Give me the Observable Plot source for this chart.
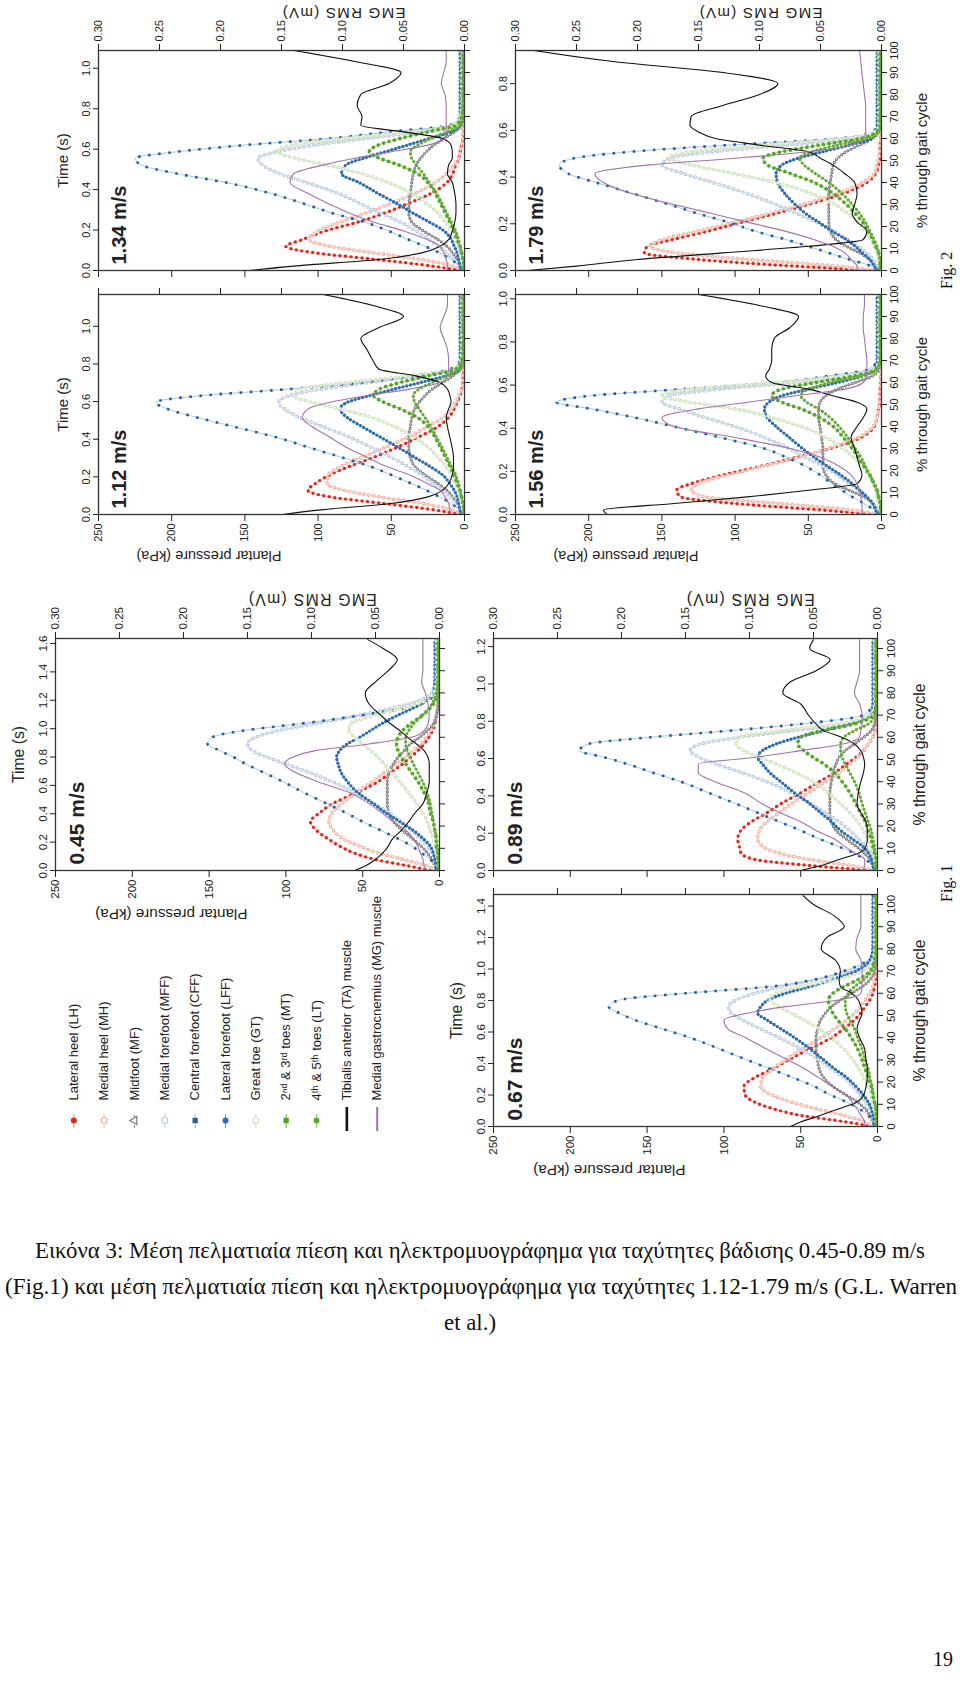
<!DOCTYPE html>
<html><head><meta charset="utf-8">
<script src="https://cdn.jsdelivr.net/npm/d3@7"></script>
<script src="https://cdn.jsdelivr.net/npm/@observablehq/plot@0.6"></script>
<style>
body{margin:0;background:#fff;}
#page{position:relative;width:960px;height:1682px;overflow:hidden;background:#fff;}
.rot{position:absolute;transform-origin:0 0;}
.cap{position:absolute;left:480px;font-family:"Liberation Serif","Times New Roman",serif;font-size:24px;white-space:nowrap;color:#111;line-height:1;transform-origin:50% 50%;}
.figl{position:absolute;font-family:"Liberation Serif","Times New Roman",serif;font-size:16px;white-space:nowrap;color:#111;transform-origin:0 0;}
</style></head><body><div id="page"></div>
<script>
// ---------- grids (% of gait cycle) ----------
const G2 = [0,2,5,8,11,14,18,22,26,30,35,40,44,48,51,54,57,60,63,66,70,75,80,85,90,95,100];
const G1 = [0,2,5,8,11,14,18,22,26,30,35,40,44,48,51,54,57,60,63,66,70,75,80,85,90,95,100,104];

// ---------- tick labels ----------
const pressTicks = [0,50,100,150,200,250];
const emgTicks = [0,0.05,0.10,0.15,0.20,0.25,0.30];
const gaitTicks = [0,10,20,30,40,50,60,70,80,90,100];
const time045 = [0,0.2,0.4,0.6,0.8,1.0,1.2,1.4,1.6];
const time067 = [0,0.2,0.4,0.6,0.8,1.0,1.2,1.4];
const time089 = [0,0.2,0.4,0.6,0.8,1.0,1.2];
const time112 = [0,0.2,0.4,0.6,0.8,1.0];
const time134 = [0,0.2,0.4,0.6,0.8,1.0];
const time156 = [0,0.2,0.4,0.6,0.8,1.0];
const time179 = [0,0.2,0.4,0.6,0.8];

// ---------- legend ----------
const legendNames = ["Lateral heel (LH)","Medial heel (MH)","Midfoot (MF)","Medial forefoot (MFF)","Central forefoot (CFF)","Lateral forefoot (LFF)","Great toe (GT)","2ⁿᵈ & 3ʳᵈ toes (MT)","4ᵗʰ & 5ᵗʰ toes (LT)","Tibialis anterior (TA) muscle","Medial gastrocnemius (MG) muscle"];

// ---------- 0.45 m/s (kPa; EMG in mV) ----------
const LH045 = [6,20,42,56,65,72,80,84,78,70,54,40,32,24,19,14,10,7,4.5,3,2,1,1,1,1,1,1,1];
const MH045 = [3,8,24,40,52,62,69,72,70,64,54,44,36,28,22,17,12,8.5,5.5,3.5,2,1,1,1,1,1,1,1];
const MF045 = [2,3,5,8,12,17,24,30,33,34,34,34,33,30,27,23,19,13,8,4,2,1,1,1,1,1,1,1];
const MFF045 = [2,2,3,5,8,12,18,25,33,42,55,70,84,100,112,122,125,120,105,82,52,20,5,3,2,2,2,2];
const CFF045 = [2,3,6,12,18,26,38,50,61,73,88,102,114,126,134,143,151,148,128,92,50,12,3,2,2,2,2,2];
const LFF045 = [2,2,3,4,6,10,17,26,35,43,53,60,64,66,67,65,60,52,45,38,27,12,4,3,3,3,3,3];
const GT045 = [1,1,1,2,3,4,6,8,11,15,20,26,31,36,40,45,50,55,59,58,42,14,4,2,2,2,2,2];
const MT045 = [0.5,0.5,1,1,2,2,3,4,6,7,10,14,18,22,25,27,28,27,24,19,11,4,1.5,1,1,1,1,1];
const LT045 = [0.5,0.5,1,1,1.5,2,3,4,5,6,8,11,14,17,19,21,22,22,20,17,11,5,2,1,1,1,1,1];
const TA045 = [0.066,0.058,0.05,0.044,0.040,0.037,0.03,0.024,0.019,0.013,0.01,0.008,0.008,0.008,0.009,0.012,0.018,0.025,0.031,0.038,0.046,0.055,0.058,0.05,0.04,0.033,0.044,0.056];
const MG045 = [0.012,0.012,0.013,0.015,0.017,0.02,0.026,0.036,0.045,0.055,0.07,0.095,0.112,0.121,0.115,0.097,0.055,0.022,0.012,0.009,0.008,0.009,0.011,0.014,0.013,0.013,0.013,0.013];

// ---------- 0.67 m/s ----------
const LH067 = [3,20,50,68,80,86,87,80,68,58,44,30,22,15,11,8,5,3,2,1,1,1,1,1,1,1,1,1];
const MH067 = [3,8,22,40,56,68,76,75,68,60,49,37,28,20,15,11,8,5,3,2,1,1,1,1,1,1,1,1];
const MF067 = [2,3,5,8,13,20,29,35,38,39,40,40,39,37,34,30,24,17,10,5,2,1,1,1,1,1,1,1];
const MFF067 = [2,2,3,5,8,11,16,22,30,38,50,64,76,88,95,97,92,80,62,41,18,4,3,2,2,2,2,2];
const CFF067 = [2,3,6,12,20,30,41,55,70,85,103,122,140,158,168,175,168,125,70,42,22,6,2,2,2,2,2,2];
const LFF067 = [2,2,3,4,6,9,14,20,28,35,44,54,63,72,78,76,71,60,44,30,14,5,3,3,3,3,3,3];
const GT067 = [1,1,1,2,3,4,6,9,12,16,22,30,38,48,56,64,70,66,50,28,10,3,2,2,2,2,2,2];
const MT067 = [0.5,0.5,1,1,2,3,4,6,8,10,13,17,21,26,29,31,32,29,22,13,5,2,1,1,1,1,1,1];
const LT067 = [0.5,0.5,1,1,2,2.5,3.5,5,6,8,10,13,15,18,20,21,21,19,15,9,4,1.5,1,1,1,1,1,1];
const TA067 = [0.068,0.06,0.045,0.03,0.016,0.011,0.009,0.008,0.008,0.009,0.01,0.014,0.016,0.014,0.012,0.013,0.015,0.02,0.029,0.03,0.029,0.033,0.044,0.04,0.026,0.034,0.05,0.058];
const MG067 = [0.01,0.01,0.013,0.016,0.02,0.024,0.035,0.046,0.057,0.07,0.087,0.103,0.117,0.12,0.102,0.072,0.03,0.013,0.012,0.012,0.012,0.013,0.017,0.016,0.013,0.013,0.013,0.013];

// ---------- 0.89 m/s ----------
const LH089 = [5,40,80,89,90,91,89,82,72,63,50,38,28,20,14,9,6,3,1.5,1,1,1,1,1,1,1,1,1];
const MH089 = [3,15,45,65,75,78,77,72,64,56,45,34,25,18,13,9,6,3,1.5,1,1,1,1,1,1,1,1,1];
const MF089 = [2,3,5,9,14,20,27,30,31,31,31,30,29,27,25,21,15,9,4,2,1,1,1,1,1,1,1,1];
const MFF089 = [2,2,3,5,8,12,18,25,34,43,56,72,88,105,116,122,115,90,55,22,5,3,2,2,2,2,2,2];
const CFF089 = [2,3,8,16,26,37,50,64,78,92,110,128,146,163,178,194,188,148,96,50,9,3,2,2,2,2,2,2];
const LFF089 = [2,3,4,6,10,16,24,30,37,44,54,63,70,75,78,75,66,52,35,18,5,3,3,3,3,3,3,3];
const GT089 = [1,1,2,3,4,6,9,13,18,24,32,42,53,66,77,87,92,90,62,25,5,2,2,2,2,2,2,2];
const MT089 = [0.5,1,1,2,3,4,6,8,11,14,18,23,28,35,42,48,52,50,36,15,3,1,1,1,1,1,1,1];
const LT089 = [0.5,1,1,1.5,2,3,4,6,8,10,12,15,18,21,23,24,24,22,15,6,2,1,1,1,1,1,1,1];
const TA089 = [0.06,0.045,0.03,0.014,0.009,0.008,0.008,0.009,0.013,0.016,0.015,0.013,0.011,0.01,0.011,0.013,0.018,0.028,0.042,0.048,0.054,0.06,0.074,0.068,0.048,0.037,0.053,0.05];
const MG089 = [0.012,0.01,0.01,0.018,0.026,0.033,0.048,0.06,0.076,0.09,0.104,0.127,0.14,0.14,0.095,0.06,0.027,0.014,0.013,0.012,0.012,0.014,0.018,0.016,0.014,0.014,0.014,0.014];

// ---------- 1.12 m/s ----------
const LH112 = [3,20,55,92,107,102,92,78,62,48,32,18,11,7,5,3,2,1,1,0.5,0.5,0.5,0.5,0.5,0.5,0.5,0.5];
const MH112 = [2,8,28,58,82,94,93,84,70,56,39,25,15,9,6,4,2,1,1,0.5,0.5,0.5,0.5,0.5,0.5,0.5,0.5];
const MF112 = [2,3,5,8,12,18,27,34,37,38,38,37,36,34,31,27,22,15,8,3,1,1,1,1,1,1,1];
const MFF112 = [2,3,6,10,15,21,29,39,50,62,78,97,112,123,127,120,98,65,32,6,2,2,2,2,2,2,2];
const CFF112 = [2,4,9,17,26,36,50,65,84,104,128,158,182,203,211,180,120,70,35,10,3,2,2,2,2,2,2];
const LFF112 = [2,3,4,5,7,10,15,24,34,44,57,70,80,85,80,65,48,30,13,3,3,3,3,3,3,3,3];
const GT112 = [1,1,2,3,4,6,9,13,18,24,34,48,63,85,104,117,112,80,38,8,3,2,2,2,2,2,2];
const MT112 = [0.5,0.5,1,2,3,5,7,10,13,16,20,25,32,44,55,62,58,44,25,6,2,1,1,1,1,1,1];
const LT112 = [0.5,0.5,1,2,3,4,6,9,12,15,19,23,27,31,34,35,31,22,12,3,1,1,1,1,1,1,1];
const TA112 = [0.149,0.12,0.06,0.03,0.018,0.013,0.01,0.009,0.009,0.01,0.012,0.014,0.015,0.013,0.011,0.012,0.014,0.02,0.04,0.07,0.075,0.08,0.085,0.07,0.05,0.075,0.116];
const MG112 = [0.012,0.012,0.013,0.016,0.02,0.03,0.045,0.065,0.08,0.095,0.11,0.125,0.133,0.128,0.11,0.08,0.045,0.02,0.014,0.013,0.013,0.014,0.017,0.02,0.017,0.014,0.014];

// ---------- 1.34 m/s ----------
const LH134 = [3,22,60,102,122,111,95,73,55,40,23,12,8,6,4,3,2,1,1,0.5,0.5,0.5,0.5,0.5,0.5,0.5,0.5];
const MH134 = [2,8,30,62,92,106,100,85,68,52,34,20,12,7,4,3,2,1,1,0.5,0.5,0.5,0.5,0.5,0.5,0.5,0.5];
const MF134 = [2,3,5,8,12,18,28,36,38,38,37,36,35,33,30,26,21,14,7,2,1,1,1,1,1,1,1];
const MFF134 = [2,3,7,12,18,24,33,44,57,70,86,108,126,138,141,128,102,67,32,4,2,2,2,2,2,2,2];
const CFF134 = [2,4,9,17,27,38,52,68,90,108,132,163,196,221,225,196,150,92,52,10,3,2,2,2,2,2,2];
const LFF134 = [2,3,4,5,7,9,14,24,35,45,59,72,84,81,69,54,39,24,9,3,3,3,3,3,3,3,3];
const GT134 = [1,1,2,3,4,6,9,13,18,25,36,52,70,95,115,128,118,80,35,8,3,2,2,2,2,2,2];
const MT134 = [0.5,0.5,1,2,3,5,7,10,13,16,20,25,32,45,58,65,59,44,25,6,2,1,1,1,1,1,1];
const LT134 = [0.5,0.5,1,2,3,4,6,9,12,15,19,24,28,33,36,37,32,23,12,3,1,1,1,1,1,1,1];
const TA134 = [0.177,0.14,0.07,0.035,0.02,0.013,0.01,0.008,0.007,0.007,0.008,0.01,0.014,0.013,0.01,0.01,0.011,0.018,0.05,0.085,0.084,0.088,0.085,0.062,0.052,0.09,0.14];
const MG134 = [0.014,0.014,0.015,0.017,0.02,0.03,0.05,0.075,0.094,0.11,0.128,0.143,0.14,0.115,0.09,0.06,0.03,0.016,0.015,0.015,0.015,0.015,0.016,0.019,0.017,0.015,0.015];

// ---------- 1.56 m/s ----------
const LH156 = [5,40,100,137,140,130,108,82,58,35,14,5,3,2,1,1,1,0.5,0.5,0.5,0.5,0.5,0.5,0.5,0.5,0.5,0.5];
const MH156 = [3,20,70,120,130,125,105,80,57,36,16,6,3,2,1,1,1,0.5,0.5,0.5,0.5,0.5,0.5,0.5,0.5,0.5,0.5];
const MF156 = [2,3,6,12,22,32,38,40,40,40,41,42,43,43,42,38,30,18,6,2,1,1,1,1,1,1,1];
const MFF156 = [2,3,6,10,15,22,30,40,52,63,80,100,120,138,150,145,110,60,22,5,2,2,2,2,2,2,2];
const CFF156 = [2,5,12,20,27,34,42,52,65,80,110,142,168,198,222,198,136,72,36,9,3,2,2,2,2,2,2];
const LFF156 = [3,4,6,10,15,20,28,37,46,54,63,72,78,80,77,68,50,30,13,4,3,3,3,3,3,3,3];
const GT156 = [1,1,2,3,4,6,9,13,19,26,38,55,75,100,130,150,130,70,25,5,2,2,2,2,2,2,2];
const MT156 = [0.5,0.5,1,2,3,5,8,12,16,20,26,33,42,55,68,75,68,45,18,4,1,1,1,1,1,1,1];
const LT156 = [0.5,0.5,1,2,3,5,8,11,14,18,23,29,35,43,51,55,50,35,14,3,1,1,1,1,1,1,1];
const TA156 = [0.225,0.228,0.17,0.11,0.06,0.02,0.016,0.018,0.02,0.022,0.025,0.02,0.015,0.012,0.02,0.04,0.06,0.09,0.095,0.092,0.09,0.09,0.088,0.075,0.068,0.1,0.15];
const MG156 = [0.016,0.016,0.016,0.017,0.018,0.02,0.025,0.035,0.05,0.075,0.12,0.17,0.18,0.15,0.11,0.07,0.03,0.015,0.012,0.012,0.012,0.013,0.014,0.015,0.015,0.014,0.014];

// ---------- 1.79 m/s ----------
const LH179 = [5,60,125,162,160,143,118,95,72,50,26,10,4,2,1,1,1,0.5,0.5,0.5,0.5,0.5,0.5,0.5,0.5,0.5,0.5];
const MH179 = [3,30,90,140,158,150,125,100,76,54,30,13,5,3,2,1,1,0.5,0.5,0.5,0.5,0.5,0.5,0.5,0.5,0.5,0.5];
const MF179 = [2,4,8,15,24,31,35,36,36,36,36,35,34,33,30,24,15,6,2,1,1,1,1,1,1,1,1];
const MFF179 = [2,3,6,10,16,23,33,45,58,72,92,115,135,150,145,115,65,20,4,2,2,2,2,2,2,2,2];
const CFF179 = [2,7,22,36,50,65,87,105,126,145,170,195,214,220,210,171,105,30,6,3,2,2,2,2,2,2,2];
const LFF179 = [3,5,8,13,18,24,34,43,52,59,66,71,72,68,57,40,22,7,4,3,3,3,3,3,3,3,3];
const GT179 = [1,1,2,3,5,7,11,16,23,32,48,72,100,130,145,130,80,25,5,2,2,2,2,2,2,2,2];
const MT179 = [0.5,1,1,2,4,6,9,13,18,24,33,46,62,78,81,68,42,14,3,1,1,1,1,1,1,1,1];
const LT179 = [0.5,1,1,2,3,5,8,11,15,20,27,36,45,53,56,48,30,10,2,1,1,1,1,1,1,1,1];
const TA179 = [0.29,0.25,0.2,0.13,0.06,0.015,0.012,0.02,0.024,0.022,0.02,0.022,0.03,0.04,0.05,0.06,0.1,0.136,0.15,0.157,0.156,0.13,0.1,0.085,0.13,0.22,0.285];
const MG179 = [0.02,0.02,0.025,0.03,0.04,0.055,0.08,0.11,0.14,0.17,0.205,0.228,0.235,0.19,0.12,0.06,0.025,0.015,0.013,0.013,0.013,0.013,0.014,0.015,0.016,0.017,0.018];

// ---------- styles ----------
const FONT_N = '"Liberation Sans Narrow","Arial Narrow","Liberation Sans",Arial,sans-serif';
const FONT_R = '"Liberation Sans",Arial,sans-serif';
const K = 250 / 0.3; // EMG (mV) -> pressure axis units
const SERIES = [
  {line:"#f0a595", dot:"#e0251c", w:3.4, dash:"0 5.5", cap:"round"},
  {line:"#f6c6ba", dot:"#f1b0a1", w:3.8, dash:"0 5", cap:"round", hollow:true},
  {line:"#9a9a9a", dot:"#7a7a7a", w:3.2, dash:"0 3.6", cap:"round", hollow:true},
  {line:"#cbd6e6", dot:"#b9c8de", w:3.8, dash:"0 5", cap:"round", hollow:true},
  {line:"#a3c8e6", dot:"#285d9b", w:2.6, dash:"2.6 7.5", cap:"butt"},
  {line:"#74a9d7", dot:"#2d6caf", w:3.4, dash:"0 3.8", cap:"round"},
  {line:"#dbe9cb", dot:"#cde0b8", w:3.8, dash:"0 5", cap:"round", hollow:true},
  {line:"#7cc24a", dot:"#55a12a", w:3.4, dash:"3 2.6", cap:"butt"},
  {line:"#8cc95e", dot:"#63a936", w:3.2, dash:"0 4.2", cap:"round"}
];

const page = document.getElementById("page");

function place(el, L, T, w) {
  const d = document.createElement("div");
  d.className = "rot";
  d.style.left = L + "px";
  d.style.top = T + "px";
  d.style.transform = `translate(0px, ${w}px) rotate(-90deg)`;
  d.append(el);
  page.append(d);
}

const panels = [
  {label:"1.34 m/s", fx:98, fy:51, fig:2, T:1.088, tt:time134, show:{tl:1,tt:1,el:1,pl:0,gl:0}, p:[LH134,MH134,MF134,MFF134,CFF134,LFF134,GT134,MT134,LT134], e:[TA134,MG134]},
  {label:"1.12 m/s", fx:98, fy:295, fig:2, T:1.169, tt:time112, show:{tl:1,tt:1,el:0,pl:1,gl:0}, p:[LH112,MH112,MF112,MFF112,CFF112,LFF112,GT112,MT112,LT112], e:[TA112,MG112]},
  {label:"1.79 m/s", fx:515, fy:51, fig:2, T:0.942, tt:time179, show:{tl:1,tt:0,el:1,pl:0,gl:1}, p:[LH179,MH179,MF179,MFF179,CFF179,LFF179,GT179,MT179,LT179], e:[TA179,MG179]},
  {label:"1.56 m/s", fx:515, fy:295, fig:2, T:1.02, tt:time156, show:{tl:1,tt:0,el:0,pl:1,gl:1}, p:[LH156,MH156,MF156,MFF156,CFF156,LFF156,GT156,MT156,LT156], e:[TA156,MG156]},
  {label:"0.45 m/s", fx:55, fy:639, fig:1, T:1.565, tt:time045, show:{tl:1,tt:1,el:1,pl:1,gl:0}, p:[LH045,MH045,MF045,MFF045,CFF045,LFF045,GT045,MT045,LT045], e:[TA045,MG045]},
  {label:"0.89 m/s", fx:493, fy:639, fig:1, T:1.19, tt:time089, show:{tl:1,tt:0,el:1,pl:0,gl:1}, p:[LH089,MH089,MF089,MFF089,CFF089,LFF089,GT089,MT089,LT089], e:[TA089,MG089]},
  {label:"0.67 m/s", fx:493, fy:895, fig:1, T:1.41, tt:time067, show:{tl:1,tt:1,el:0,pl:1,gl:1}, p:[LH067,MH067,MF067,MFF067,CFF067,LFF067,GT067,MT067,LT067], e:[TA067,MG067]}
];

function drawPanel(o) {
  const f1 = o.fig === 1;
  const s = f1 ? 1.05 : 1;
  const PW = f1 ? 232 : 220, PH = f1 ? 384 : 366;
  const xMax = f1 ? 104.5 : 100;
  const xs = f1 ? G1 : G2;
  const m = 66;
  const w = PW + 2 * m, h = PH + 2 * m;
  const rows = (vals, k = 1) => vals.map((v, i) => ({x: xs[i], y: v * k}));
  const marks = [];
  SERIES.forEach((st, j) => {
    const r = rows(o.p[j]);
    marks.push(Plot.line(r, {x: "x", y: "y", curve: "monotone-x", stroke: st.line, strokeWidth: 1, clip: true}));
    marks.push(Plot.line(r, {x: "x", y: "y", curve: "monotone-x", stroke: st.dot, strokeWidth: st.w, strokeDasharray: st.dash, strokeLinecap: st.cap, clip: true}));
    if (st.hollow) marks.push(Plot.line(r, {x: "x", y: "y", curve: "monotone-x", stroke: "#fff", strokeWidth: st.w - 2.2, strokeDasharray: st.dash, strokeLinecap: st.cap, clip: true}));
  });
  marks.push(Plot.line(rows(o.e[0], K), {x: "x", y: "y", curve: "monotone-x", stroke: "#111", strokeWidth: 1.1, clip: true}));
  marks.push(Plot.line(rows(o.e[1], K), {x: "x", y: "y", curve: "monotone-x", stroke: "#a273a9", strokeWidth: 1.1, clip: true}));
  marks.push(Plot.frame({stroke: "#333", strokeWidth: 1.3}));
  const blank = () => "";
  marks.push(Plot.axisX(o.tt.map(t => t / o.T * 100), {anchor: "top", label: null, tickSize: 6, tickPadding: 3,
    tickFormat: o.show.tl ? (d => (d * o.T / 100).toFixed(1)) : blank}));
  marks.push(Plot.axisX(gaitTicks, {anchor: "bottom", label: null, tickSize: 6, tickPadding: 3,
    tickFormat: o.show.gl ? (d => String(d)) : blank}));
  marks.push(Plot.axisY(pressTicks, {anchor: "left", label: null, tickSize: 6, tickPadding: 3,
    tickFormat: o.show.pl ? (d => String(d)) : blank}));
  marks.push(Plot.axisY(emgTicks.map(e => e * K), {anchor: "right", label: null, tickSize: 6, tickPadding: 3,
    tickFormat: o.show.el ? (d => (d / K).toFixed(2)) : blank}));
  if (o.show.tt) marks.push(Plot.text(["Time (s)"], {frameAnchor: "top", dy: -41 * s, fontSize: 15 * s}));
  if (o.show.gl) marks.push(Plot.text(["% through gait cycle"], {frameAnchor: "bottom", dy: 45 * s, fontSize: 15 * s}));
  if (o.show.pl) marks.push(Plot.text(["Plantar pressure (kPa)"], {frameAnchor: "left", dx: -41 * s, rotate: -90, fontSize: 14.5 * s, fontFamily: FONT_R}));
  if (o.show.el) marks.push(Plot.text(["EMG RMS (mV)"], {frameAnchor: "right", dx: 38 * s, rotate: -90, fontSize: 15 * s, fontFamily: FONT_R}));
  marks.push(Plot.text([o.label], {frameAnchor: "top-left", dx: 6, dy: 13 * s, textAnchor: "start", lineAnchor: "top", fontWeight: "bold", fontSize: 20 * s}));
  const svg = Plot.plot({
    width: w, height: h,
    marginLeft: m, marginRight: m, marginTop: m, marginBottom: m,
    x: {domain: [0, xMax], axis: null, label: null},
    y: {domain: [0, 250], axis: null, label: null},
    style: {fontFamily: FONT_N, fontSize: (11 * s) + "px", background: "transparent", overflow: "visible", color: "#222"},
    marks
  });
  d3.select(svg).selectAll("text").filter(function () { return this.textContent === "EMG RMS (mV)"; })
    .style("letter-spacing", "1.3px");
  place(svg, o.fx - m, o.fy - m, w);
}
panels.forEach(drawPanel);

// ---------- legend (drawn in the figure's own orientation, then rotated) ----------
function drawLegend() {
  const W = 260, H = 345;
  const L = 58, T = 879;
  const ys = legendNames.map((n, i) => 15.3 + i * 30.34);
  const marks = [];
  const sym = [
    {sym: "circle", fill: "#e0251c", stroke: "none"},
    {sym: "circle", fill: "#fff", stroke: "#f1b0a1"},
    {sym: "triangle", fill: "#fff", stroke: "#7a7a7a"},
    {sym: "circle", fill: "#fff", stroke: "#b9c8de"},
    {sym: "square", fill: "#285d9b", stroke: "none"},
    {sym: "circle", fill: "#2d6caf", stroke: "none"},
    {sym: "circle", fill: "#fff", stroke: "#cde0b8"},
    {sym: "square", fill: "#55a12a", stroke: "none"},
    {sym: "circle", fill: "#63a936", stroke: "none"}
  ];
  sym.forEach((sy, i) => {
    marks.push(Plot.ruleY([ys[i]], {x1: 11, x2: 25, stroke: SERIES[i].line, strokeWidth: 1.2, strokeDasharray: i === 2 ? "3 2" : null}));
    marks.push(Plot.dot([ys[i]], {x: 18, y: d => d, symbol: sy.sym, r: 3, fill: sy.fill, stroke: sy.stroke, strokeWidth: 1.2}));
  });
  marks.push(Plot.ruleY([ys[9]], {x1: 8, x2: 32, stroke: "#111", strokeWidth: 2.6}));
  marks.push(Plot.ruleY([ys[10]], {x1: 8, x2: 32, stroke: "#a273a9", strokeWidth: 2}));
  marks.push(Plot.text(legendNames.map((n, i) => ({n, y: ys[i]})), {x: 38, y: "y", text: "n", textAnchor: "start", fontSize: 13}));
  const svg = Plot.plot({
    width: W, height: H, margin: 0,
    x: {domain: [0, W], range: [0, W], axis: null},
    y: {domain: [0, H], range: [0, H], axis: null},
    style: {fontFamily: FONT_N, fontSize: "13px", background: "transparent", overflow: "visible", color: "#222"},
    marks
  });
  place(svg, L, T, W);
}
drawLegend();

// ---------- figure labels ----------
function figLabel(text, cx, cy) {
  const d = document.createElement("div");
  d.className = "figl";
  d.textContent = text;
  page.append(d);
  const r = d.getBoundingClientRect();
  d.style.left = (cx - r.height / 2) + "px";
  d.style.top = (cy + r.width / 2) + "px";
  d.style.transform = "rotate(-90deg)";
}
figLabel("Fig. 2", 947, 270);
figLabel("Fig. 1", 947, 883);

// ---------- caption ----------
const captionLines = [
  "Εικόνα 3: Μέση πελματιαία πίεση και ηλεκτρομυογράφημα για ταχύτητες βάδισης 0.45-0.89 m/s",
  "(Fig.1) και μέση πελματιαία πίεση και ηλεκτρομυογράφημα για ταχύτητες 1.12-1.79 m/s (G.L. Warren",
  "et al.)"
];
const captionY = [1250, 1286, 1322];
const captionW = [890, 952, 0];
const captionX = [480, 481, 470];
let k1 = 1;
captionLines.forEach((t, i) => {
  const d = document.createElement("div");
  d.className = "cap";
  d.textContent = t;
  page.append(d);
  const r = d.getBoundingClientRect();
  const k = captionW[i] ? captionW[i] / r.width : k1;
  if (i === 0) k1 = k;
  d.style.left = captionX[i] + "px";
  d.style.top = (captionY[i] - r.height / 2) + "px";
  d.style.transform = `translateX(-50%) scaleX(${k})`;
});
const pn = document.createElement("div");
pn.className = "cap";
pn.textContent = "19";
pn.style.left = "933px";
pn.style.top = "1649px";
pn.style.fontSize = "20px";
page.append(pn);
</script>
</body></html>
